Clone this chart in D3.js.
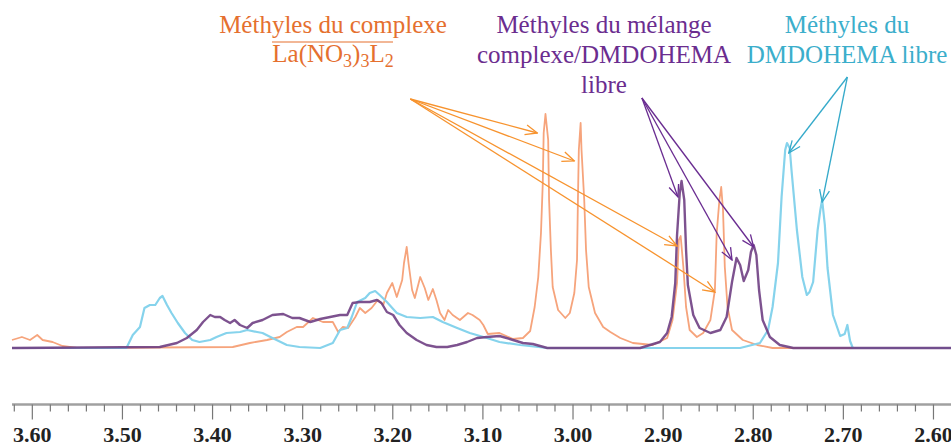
<!DOCTYPE html>
<html>
<head>
<meta charset="utf-8">
<script src="https://cdn.jsdelivr.net/npm/d3@7"></script>
<style>
  html, body { margin: 0; padding: 0; background: #fff; }
  svg { display: block; }
</style>
</head>
<body>
<div id="chart"></div>
<script>
// 1H NMR spectra overlay (ppm, intensity in arbitrary units)

// Complexe La(NO3)3L2
const complexe = [
  [3.622, 8], [3.611, 11], [3.602, 8], [3.594, 13], [3.588, 8], [3.577, 6],
  [3.566, 2], [3.550, 0], [3.377, 1], [3.358, 5], [3.339, 8], [3.325, 11],
  [3.317, 16], [3.306, 21], [3.299, 21], [3.288, 30], [3.277, 26], [3.266, 26],
  [3.260, 16], [3.255, 21], [3.249, 20], [3.241, 31], [3.236, 40], [3.230, 35],
  [3.223, 40], [3.216, 48], [3.210, 43], [3.206, 55], [3.200, 65], [3.195, 51],
  [3.189, 68], [3.187, 85], [3.184, 101], [3.182, 85], [3.178, 58], [3.175, 50],
  [3.169, 71], [3.164, 60], [3.160, 48], [3.155, 59], [3.151, 48], [3.147, 35],
  [3.142, 28], [3.138, 38], [3.133, 33], [3.125, 28], [3.116, 35], [3.111, 33],
  [3.103, 28], [3.099, 23], [3.094, 14], [3.081, 15], [3.066, 9], [3.055, 10],
  [3.047, 17], [3.042, 41], [3.038, 71], [3.035, 115], [3.033, 165], [3.032, 215],
  [3.030, 234], [3.027, 208], [3.026, 148], [3.024, 98], [3.022, 61], [3.016, 38],
  [3.008, 30], [3.003, 35], [2.998, 55], [2.995, 88], [2.994, 148], [2.993, 198],
  [2.991, 225], [2.990, 198], [2.987, 148], [2.985, 98], [2.982, 61], [2.975, 35],
  [2.966, 21], [2.958, 16], [2.947, 10], [2.933, 5], [2.911, 3], [2.895, 10],
  [2.889, 28], [2.884, 65], [2.882, 108], [2.880, 112], [2.877, 81], [2.874, 41],
  [2.870, 18], [2.862, 11], [2.855, 15], [2.847, 28], [2.842, 58], [2.840, 115],
  [2.837, 148], [2.835, 161], [2.833, 138], [2.831, 81], [2.828, 41], [2.823, 18],
  [2.811, 8], [2.795, 3], [2.778, 0], [2.580, 0]
];

// DMDOHEMA libre
const libre = [
  [3.622, 0], [3.502, 0], [3.495, 0], [3.488, 13], [3.480, 21], [3.475, 40],
  [3.469, 43], [3.463, 43], [3.458, 50], [3.455, 52], [3.450, 43], [3.445, 35],
  [3.438, 25], [3.430, 15], [3.422, 8], [3.414, 6], [3.402, 8], [3.395, 11],
  [3.384, 15], [3.369, 16], [3.361, 18], [3.350, 16], [3.344, 15], [3.333, 10],
  [3.317, 3], [3.303, 1], [3.280, 0], [3.266, 5], [3.258, 18], [3.250, 20],
  [3.245, 31], [3.239, 46], [3.230, 50], [3.225, 55], [3.219, 57], [3.214, 53],
  [3.206, 46], [3.195, 35], [3.184, 31], [3.169, 30], [3.155, 31], [3.144, 26],
  [3.128, 20], [3.114, 15], [3.095, 10], [3.081, 6], [3.058, 3], [3.028, 0],
  [2.822, 0], [2.814, 0], [2.792, 5], [2.783, 18], [2.778, 41], [2.772, 85],
  [2.768, 151], [2.764, 198], [2.762, 205], [2.759, 200], [2.757, 178], [2.751, 118],
  [2.745, 71], [2.740, 53], [2.737, 56], [2.733, 66], [2.728, 118], [2.725, 138],
  [2.723, 148], [2.720, 123], [2.717, 80], [2.711, 33], [2.703, 12], [2.698, 14],
  [2.695, 23], [2.692, 7], [2.689, 0], [2.681, 0], [2.580, 0]
];

// Mélange complexe/DMDOHEMA libre
const melange = [
  [3.622, 0], [3.458, 1], [3.439, 5], [3.428, 10], [3.417, 18], [3.410, 26],
  [3.402, 33], [3.397, 31], [3.391, 31], [3.386, 28], [3.380, 25], [3.375, 28],
  [3.369, 23], [3.361, 20], [3.355, 25], [3.344, 28], [3.333, 33], [3.321, 34],
  [3.311, 30], [3.303, 30], [3.291, 26], [3.280, 29], [3.269, 31], [3.258, 33],
  [3.250, 33], [3.244, 45], [3.236, 46], [3.225, 46], [3.217, 48], [3.212, 45],
  [3.206, 36], [3.199, 33], [3.192, 23], [3.184, 15], [3.173, 8], [3.162, 3],
  [3.151, 1], [3.139, 1], [3.128, 3], [3.117, 6], [3.106, 10], [3.095, 11],
  [3.081, 12], [3.066, 8], [3.055, 5], [3.044, 4], [3.028, 0], [2.925, 0],
  [2.914, 3], [2.903, 6], [2.895, 15], [2.890, 31], [2.886, 65], [2.884, 113],
  [2.881, 155], [2.879, 167], [2.876, 148], [2.874, 98], [2.872, 63], [2.866, 33],
  [2.859, 20], [2.847, 15], [2.836, 18], [2.829, 31], [2.823, 66], [2.818, 90],
  [2.814, 83], [2.810, 67], [2.805, 78], [2.802, 96], [2.799, 103], [2.796, 93],
  [2.793, 58], [2.789, 28], [2.781, 11], [2.770, 3], [2.755, 0], [2.580, 0]
];

// Annotation arrows: origin and targets in (ppm, intensity)
const arrowsComplexe = { from: [3.180, 249], to: [[3.039, 215], [2.998, 187], [2.884, 102], [2.842, 56]] };
const arrowsMelange = { from: [2.923, 250], to: [[2.883, 151], [2.823, 88], [2.799, 101]] };
const arrowsLibre = { from: [2.695, 271], to: [[2.760, 195], [2.723, 146]] };

// Axis ticks
const majorTicks = [3.60, 3.50, 3.40, 3.30, 3.20, 3.10, 3.00, 2.90, 2.80, 2.70, 2.60];
const minorTicks = d3.range(0, 52).map((i) => +(3.62 - i * 0.02).toFixed(2))
  .filter((t) => !majorTicks.some((m) => Math.abs(m - t) < 1e-6));

const W = 951, H = 445;
const serif = '"Liberation Serif", "Times New Roman", serif';

const x = d3.scaleLinear().domain([3.622, 2.580]).range([12, 951]);
const y = d3.scaleLinear().domain([0, 250]).range([348, 98]);

const svg = d3.select("#chart").append("svg")
  .attr("width", W).attr("height", H)
  .attr("viewBox", [0, 0, W, H]);

// Arrow markers
const defs = svg.append("defs");
[["orange", "#F7932E"], ["purple", "#6A2C91"], ["cyan", "#35AACA"]].forEach(([id, c]) => {
  defs.append("marker")
    .attr("id", "head-" + id)
    .attr("viewBox", "-1 -7 14 14")
    .attr("refX", 12).attr("refY", 0)
    .attr("markerWidth", 14).attr("markerHeight", 14)
    .attr("markerUnits", "userSpaceOnUse")
    .attr("orient", "auto")
    .append("path")
    .attr("d", "M0,-5L12,0L0,5")
    .attr("fill", "none")
    .attr("stroke", c)
    .attr("stroke-width", 1.3);
});

// Spectra
const line = d3.line().x((d) => x(d[0])).y((d) => y(d[1]));

svg.append("path").datum(complexe)
  .attr("fill", "none").attr("stroke", "#F6A47C")
  .attr("stroke-width", 1.8).attr("stroke-linejoin", "round")
  .attr("d", line);

svg.append("path").datum(libre)
  .attr("fill", "none").attr("stroke", "#86D3EC")
  .attr("stroke-width", 2.2).attr("stroke-linejoin", "round")
  .attr("d", line);

svg.append("path").datum(melange)
  .attr("fill", "none").attr("stroke", "#6F3F83")
  .attr("stroke-width", 2.4).attr("stroke-opacity", 0.9)
  .attr("stroke-linejoin", "round")
  .attr("d", line);

// Arrows
function drawArrows(set, color, id) {
  svg.append("g").selectAll("line")
    .data(set.to)
    .join("line")
    .attr("x1", x(set.from[0])).attr("y1", y(set.from[1]))
    .attr("x2", (d) => x(d[0])).attr("y2", (d) => y(d[1]))
    .attr("stroke", color).attr("stroke-width", 1.3)
    .attr("marker-end", `url(#head-${id})`);
}
drawArrows(arrowsComplexe, "#F7932E", "orange");
drawArrows(arrowsMelange, "#6A2C91", "purple");
drawArrows(arrowsLibre, "#35AACA", "cyan");

// Labels
function label(lines, cx, color) {
  lines.forEach(([txt, by]) => {
    svg.append("text")
      .attr("x", cx).attr("y", by)
      .attr("text-anchor", "middle")
      .style("font-family", serif).style("font-size", "25px")
      .attr("fill", color)
      .text(txt);
  });
}
label([["Méthyles du complexe", 33]], 333, "#E5702F");
label([["Méthyles du mélange", 33], ["complexe/DMDOHEMA", 63], ["libre", 93]], 604, "#6B2D8F");
label([["Méthyles du", 33], ["DMDOHEMA libre", 63]], 847, "#3BAECB");

// La(NO3)3L2 with subscripts and bar above
const formula = svg.append("text")
  .attr("x", 333).attr("y", 62)
  .attr("text-anchor", "middle")
  .style("font-family", serif).style("font-size", "25px")
  .attr("fill", "#E5702F");
const parts = [["La(NO", 0], ["3", 5], [")", -5], ["3", 5], ["L", -5], ["2", 5]];
parts.forEach(([t, shift]) => {
  formula.append("tspan")
    .attr("dy", shift)
    .style("font-size", shift > 0 ? "18px" : "25px")
    .text(t);
});
svg.append("line")
  .attr("x1", 272).attr("x2", 393).attr("y1", 42).attr("y2", 42)
  .attr("stroke", "#E5702F").attr("stroke-width", 1.2);

// Axis
const axisY = 404.5;
svg.append("line")
  .attr("x1", 12).attr("x2", W).attr("y1", axisY).attr("y2", axisY)
  .attr("stroke", "#A0A0A0").attr("stroke-width", 2.5);

const gMinor = svg.append("g")
  .attr("transform", `translate(0,${axisY})`)
  .call(d3.axisBottom(x).tickValues(minorTicks).tickSize(7).tickFormat(""));
gMinor.select(".domain").remove();
gMinor.selectAll("line").attr("stroke", "#777").attr("stroke-width", 1.2);

const gMajor = svg.append("g")
  .attr("transform", `translate(0,${axisY})`)
  .call(d3.axisBottom(x).tickValues(majorTicks).tickSize(15).tickFormat(d3.format(".2f")));
gMajor.select(".domain").remove();
gMajor.selectAll("line").attr("stroke", "#777").attr("stroke-width", 1.2);
gMajor.selectAll("text")
  .attr("y", 37).attr("dy", 0)
  .attr("fill", "#222")
  .style("font-family", serif)
  .style("font-size", "22px")
  .style("font-weight", "bold");
</script>
</body>
</html>
